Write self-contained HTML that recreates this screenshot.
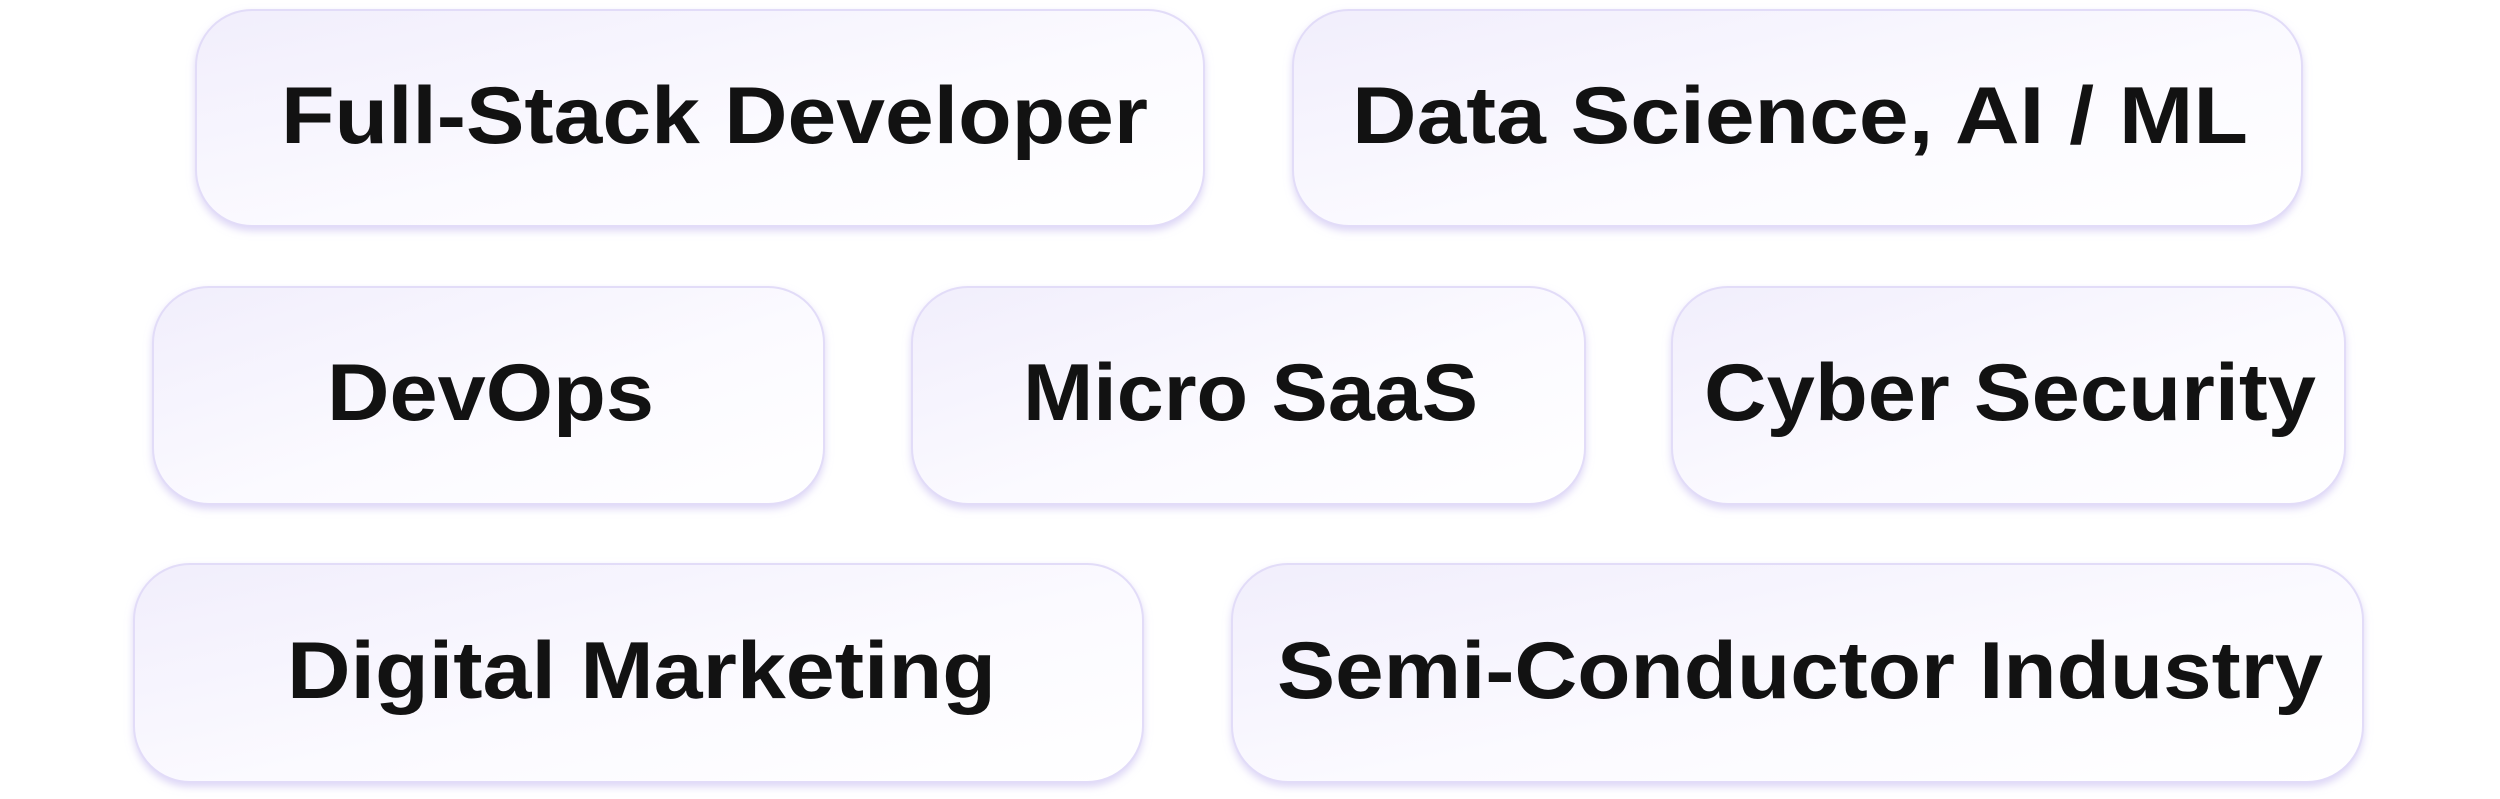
<!DOCTYPE html>
<html><head><style>
html,body{margin:0;padding:0;background:#fff;width:2500px;height:799px;overflow:hidden}
</style></head><body>
<svg width="2500" height="799" viewBox="0 0 2500 799" xmlns="http://www.w3.org/2000/svg">
<defs>
<linearGradient id="g" x1="0" y1="0" x2="1" y2="1">
<stop offset="0" stop-color="#f1eefc"/><stop offset="0.55" stop-color="#fbfaff"/><stop offset="1" stop-color="#ffffff"/>
</linearGradient>
<filter id="s" x="-5%" y="-10%" width="110%" height="130%">
<feDropShadow dx="0" dy="4" stdDeviation="4" flood-color="#cfc6f2" flood-opacity="0.7"/>
</filter>
</defs>
<g fill="url(#g)" stroke="#e2dcf8" stroke-width="2" filter="url(#s)">
<rect x="196" y="10" width="1008" height="216" rx="56"/>
<rect x="1293" y="10" width="1009" height="216" rx="56"/>
<rect x="153" y="287" width="671" height="217" rx="56"/>
<rect x="912" y="287" width="673" height="217" rx="56"/>
<rect x="1672" y="287" width="673" height="217" rx="56"/>
<rect x="134" y="564" width="1009" height="218" rx="56"/>
<rect x="1232" y="564" width="1131" height="218" rx="56"/>
</g>
<g font-family="Liberation Sans, sans-serif" font-weight="bold" font-size="81" fill="#121212" lengthAdjust="spacingAndGlyphs">
<text x="281" y="143" textLength="867" lengthAdjust="spacingAndGlyphs">Full-Stack Developer</text>
<text x="1352" y="143" textLength="896" lengthAdjust="spacingAndGlyphs">Data Science, AI / ML</text>
<text x="327" y="420" textLength="327" lengthAdjust="spacingAndGlyphs">DevOps</text>
<text x="1023" y="420" textLength="455" lengthAdjust="spacingAndGlyphs">Micro SaaS</text>
<text x="1704" y="420" textLength="612" lengthAdjust="spacingAndGlyphs">Cyber Security</text>
<text x="287" y="698" textLength="709" lengthAdjust="spacingAndGlyphs">Digital Marketing</text>
<text x="1277" y="698" textLength="1046" lengthAdjust="spacingAndGlyphs">Semi-Conductor Industry</text>
</g>
</svg>
</body></html>
